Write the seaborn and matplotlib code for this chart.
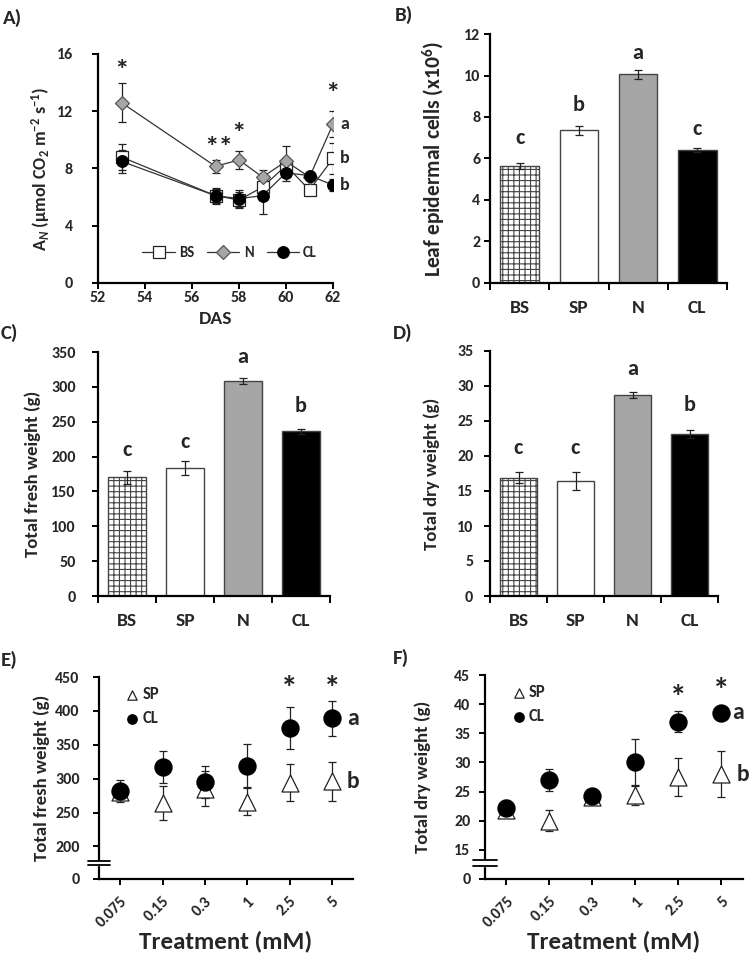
import numpy as np
import pandas as pd
import matplotlib
matplotlib.use('Agg')
import matplotlib.pyplot as plt
import matplotlib.transforms as mtransforms
import seaborn as sns

# ---- data ----
# A) net photosynthesis over days after sowing
das = [53, 57, 58, 59, 60, 61, 62]
an_bs = [8.8, 6.1, 5.8, 6.7, 8.2, 6.5, 8.7]
an_bs_err = [0.9, 0.55, 0.55, 0.6, 0.5, 0.2, 1.1]
an_n = [12.6, 8.15, 8.6, 7.4, 8.5, 7.4, 11.1]
an_n_err = [1.35, 0.45, 0.65, 0.5, 1.1, 0.2, 0.9]
an_cl = [8.5, 6.1, 5.9, 6.1, 7.7, 7.5, 6.85]
an_cl_err = [0.8, 0.5, 0.6, 1.3, 0.6, 0.2, 0.4]
a_stars = [(53, 14.8, '*'), (57.15, 9.4, '**'), (58, 10.4, '*'), (62, 13.2, '*')]
a_letters = [(11.1, 'a'), (8.7, 'b'), (6.85, 'b')]

# B-D) bar panels
groups = ['BS', 'SP', 'N', 'CL']
cells = [5.65, 7.35, 10.05, 6.42]
cells_err = [0.15, 0.22, 0.2, 0.1]
cells_letters = ['c', 'b', 'a', 'c']
cells_letter_y = [7.0, 8.6, 11.1, 7.4]

fresh = [170, 183, 308, 236]
fresh_err = [10, 10, 4, 4]
fresh_letters = ['c', 'c', 'a', 'b']
fresh_letter_y = [209, 221, 343, 272]

dry = [16.9, 16.4, 28.7, 23.1]
dry_err = [0.8, 1.3, 0.4, 0.6]
dry_letters = ['c', 'c', 'a', 'b']
dry_letter_y = [21.1, 21.1, 32.4, 27.3]

# E-F) dose response
conc = ['0.075', '0.15', '0.3', '1', '2.5', '5']
fw_sp = [280, 264, 285, 266, 294, 296]
fw_sp_err = [8, 25, 26, 20, 27, 29]
fw_cl = [282, 317, 295, 319, 375, 389]
fw_cl_err = [16, 24, 24, 32, 31, 26]
dw_sp = [21.9, 20.0, 24.0, 24.4, 27.5, 28.0]
dw_sp_err = [0.8, 1.8, 1.0, 1.7, 3.3, 4.0]
dw_cl = [22.2, 27.0, 24.2, 30.0, 37.0, 38.5]
dw_cl_err = [1.4, 1.9, 1.2, 4.0, 1.8, 0.3]

# ---- style ----
sns.set_theme(style='ticks')
plt.rcParams['font.family'] = ['Carlito', 'DejaVu Sans']
plt.rcParams['font.weight'] = 'bold'
plt.rcParams['axes.labelweight'] = 'bold'
plt.rcParams['mathtext.fontset'] = 'custom'
plt.rcParams['mathtext.rm'] = 'Carlito:bold'
plt.rcParams['mathtext.it'] = 'Carlito:bold:italic'
plt.rcParams['mathtext.bf'] = 'Carlito:bold'
plt.rcParams['hatch.color'] = '#555555'
plt.rcParams['hatch.linewidth'] = 0.8

W, H = 750, 961
fig = plt.figure(figsize=(7.5, 9.61), dpi=100)

TICK = 11.5
LABEL = 13.5
TAG = 15


def add_ax(left, right, top, bottom):
    return fig.add_axes([left / W, 1 - bottom / H, (right - left) / W, (bottom - top) / H])


def style_axis(ax, ypad, label_x):
    sns.despine(ax=ax)
    for s in ['left', 'bottom']:
        ax.spines[s].set_linewidth(1.6)
        ax.spines[s].set_color('black')
    ax.tick_params(axis='both', which='both', direction='out', width=1.4, color='black',
                   labelsize=TICK, length=4, pad=2)
    ax.tick_params(axis='y', pad=ypad)
    # label_x: centre of the y label in figure pixels
    l = ax.get_position().x0 * W
    w = ax.get_position().width * W
    ax.yaxis.set_label_coords((label_x - l) / w, 0.5)
    ax.yaxis.label.set_va('center')


# ---- A ----
ax = add_ax(98, 333, 54, 283)
for vals, err in [(an_bs, an_bs_err), (an_n, an_n_err), (an_cl, an_cl_err)]:
    ax.errorbar(das, vals, yerr=err, fmt='none', ecolor='#222222', elinewidth=0.9,
                capsize=3, capthick=0.9, zorder=1)
sns.lineplot(x=das, y=an_bs, ax=ax, color='#333333', lw=0.9, marker='s', markersize=8,
             markerfacecolor='white', markeredgecolor='#222222', markeredgewidth=0.9, label='BS')
sns.lineplot(x=das, y=an_n, ax=ax, color='#333333', lw=0.9, marker='D', markersize=7,
             markerfacecolor='#a6a6a6', markeredgecolor='#555555', markeredgewidth=0.9, label='N')
sns.lineplot(x=das, y=an_cl, ax=ax, color='#333333', lw=0.9, marker='o', markersize=8.5,
             markerfacecolor='black', markeredgecolor='black', label='CL')
ax.set_xlim(52, 62)
ax.set_ylim(0, 16)
ax.set_xticks(range(52, 63, 2))
ax.set_yticks(range(0, 17, 4))
ax.set_xlabel('DAS', fontsize=14, labelpad=4)
ax.set_ylabel('A$_{\\mathit{N}}$ (μmol CO$_2$ m$^{-2}$ s$^{-1}$)', fontsize=13)
style_axis(ax, 14, 41)
for x, y, s in a_stars:
    ax.text(x, y, s, ha='center', va='center', fontsize=21)
for y, s in a_letters:
    ax.text(62.5, y, s, ha='center', va='center', fontsize=13)
ax.legend(loc='center', bbox_to_anchor=(0.56, 0.13), ncol=3, frameon=False, fontsize=10.5,
          handlelength=2.2, handletextpad=0.3, columnspacing=0.9)
fig.text(3 / W, 1 - 18 / H, 'A)', fontsize=TAG, fontweight='bold', va='center')


# ---- B, C, D ----
def bar_panel(box, vals, err, letters, letter_y, ylim, step, ylabel, lsize, ypad, label_x,
              tag, tagpos):
    ax = add_ax(*box)
    df = pd.DataFrame({'group': groups, 'value': vals})
    sns.barplot(data=df, x='group', y='value', hue='group', legend=False, ax=ax,
                palette=['white', 'white', '#a6a6a6', 'black'], width=0.65,
                edgecolor='#444444', linewidth=1.0, errorbar=None)
    ax.patches[0].set_hatch('+++')
    ax.errorbar(range(len(groups)), vals, yerr=err, fmt='none', ecolor='#222222',
                elinewidth=0.9, capsize=3, capthick=0.9, zorder=5)
    for i, (s, y) in enumerate(zip(letters, letter_y)):
        ax.text(i, y, s, ha='center', va='center', fontsize=16)
    ax.set_xlim(-0.5, len(groups) - 0.5)
    ax.set_ylim(*ylim)
    ax.set_yticks(np.arange(ylim[0], ylim[1] + step / 2, step))
    ax.set_xlabel('')
    ax.set_ylabel(ylabel, fontsize=lsize)
    style_axis(ax, ypad, label_x)
    ax.set_xticks(np.arange(-0.5, len(groups)), minor=True)
    ax.tick_params(axis='x', which='major', length=0, pad=12, labelsize=14)
    ax.tick_params(axis='x', which='minor', length=5)
    fig.text(tagpos[0] / W, 1 - tagpos[1] / H, tag, fontsize=TAG, fontweight='bold', va='center')
    return ax


bar_panel((490, 727, 34, 283), cells, cells_err, cells_letters, cells_letter_y, (0, 12), 2,
          'Leaf epidermal cells (x10$^{6}$)', 15.5, 3, 434, 'B)', (395, 15))
bar_panel((98, 330, 352, 596), fresh, fresh_err, fresh_letters, fresh_letter_y, (0, 350), 50,
          'Total fresh weight (g)', LABEL, 12, 33, 'C)', (1, 333))
bar_panel((490, 718, 351, 596), dry, dry_err, dry_letters, dry_letter_y, (0, 35), 5,
          'Total dry weight (g)', LABEL, 8, 432, 'D)', (393, 333))


# ---- E, F ----
def dose_panel(box, sp, sp_err, cl, cl_err, ybottom, yticks, break_y, stars, letters,
               ylabel, ypad, label_x, tag, tagpos):
    ax = add_ax(*box)
    ax.errorbar(conc, sp, yerr=sp_err, fmt='none', ecolor='#222222', elinewidth=0.9,
                capsize=3, capthick=0.9, zorder=1)
    ax.errorbar(conc, cl, yerr=cl_err, fmt='none', ecolor='#222222', elinewidth=0.9,
                capsize=3, capthick=0.9, zorder=1)
    sns.scatterplot(x=conc, y=sp, ax=ax, marker='^', s=150, facecolor='white',
                    edgecolor='#222222', linewidth=0.9, label='SP', zorder=3)
    sns.scatterplot(x=conc, y=cl, ax=ax, marker='o', s=150, color='black',
                    edgecolor='black', label='CL', zorder=4)
    ax.set_xlim(-0.5, len(conc) - 0.5)
    ax.set_ylim(ybottom, yticks[-1])
    ax.set_yticks([ybottom] + yticks)
    ax.set_yticklabels(['0'] + [str(t) for t in yticks])
    ax.set_xlabel('Treatment (mM)', fontsize=18, labelpad=0)
    ax.set_ylabel(ylabel, fontsize=LABEL)
    style_axis(ax, ypad, label_x)
    ax.tick_params(axis='x', labelsize=TICK, pad=7)
    plt.setp(ax.get_xticklabels(), rotation=45, ha='right', rotation_mode='anchor')
    # axis break marks
    tr = mtransforms.blended_transform_factory(ax.transAxes, ax.transData)
    ax.fill_between([-0.05, 0.05], break_y[0], break_y[1], color='white', transform=tr,
                    clip_on=False, zorder=10)
    for y in break_y:
        ax.plot([-0.045, 0.045], [y, y], color='black', lw=1.3, transform=tr,
                clip_on=False, zorder=11)
    for x, y in stars:
        ax.text(x, y, '*', ha='center', va='center', fontsize=24)
    for x, y, s in letters:
        ax.text(x, y, s, ha='center', va='center', fontsize=17)
    ax.legend(loc='upper left', bbox_to_anchor=(0.04, 1.03), frameon=False, fontsize=12,
              markerscale=0.55, handletextpad=0.1, labelspacing=0.5, handlelength=1.0)
    fig.text(tagpos[0] / W, 1 - tagpos[1] / H, tag, fontsize=TAG, fontweight='bold', va='center')
    return ax


dose_panel((99, 353, 677, 879), fw_sp, fw_sp_err, fw_cl, fw_cl_err, 152,
           [200, 250, 300, 350, 400, 450], (172, 178),
           [(4, 433), (5, 433)], [(5.5, 389, 'a'), (5.5, 296, 'b')],
           'Total fresh weight (g)', 10, 42, 'E)', (1, 660))
dose_panel((485, 743, 675, 879), dw_sp, dw_sp_err, dw_cl, dw_cl_err, 10,
           [15, 20, 25, 30, 35, 40, 45], (12.3, 13.3),
           [(4, 41.0), (5, 42.3)], [(5.38, 38.5, 'a'), (5.5, 28.0, 'b')],
           'Total dry weight (g)', 6.5, 423, 'F)', (393, 658))

fig.savefig('out.png', dpi=100)
